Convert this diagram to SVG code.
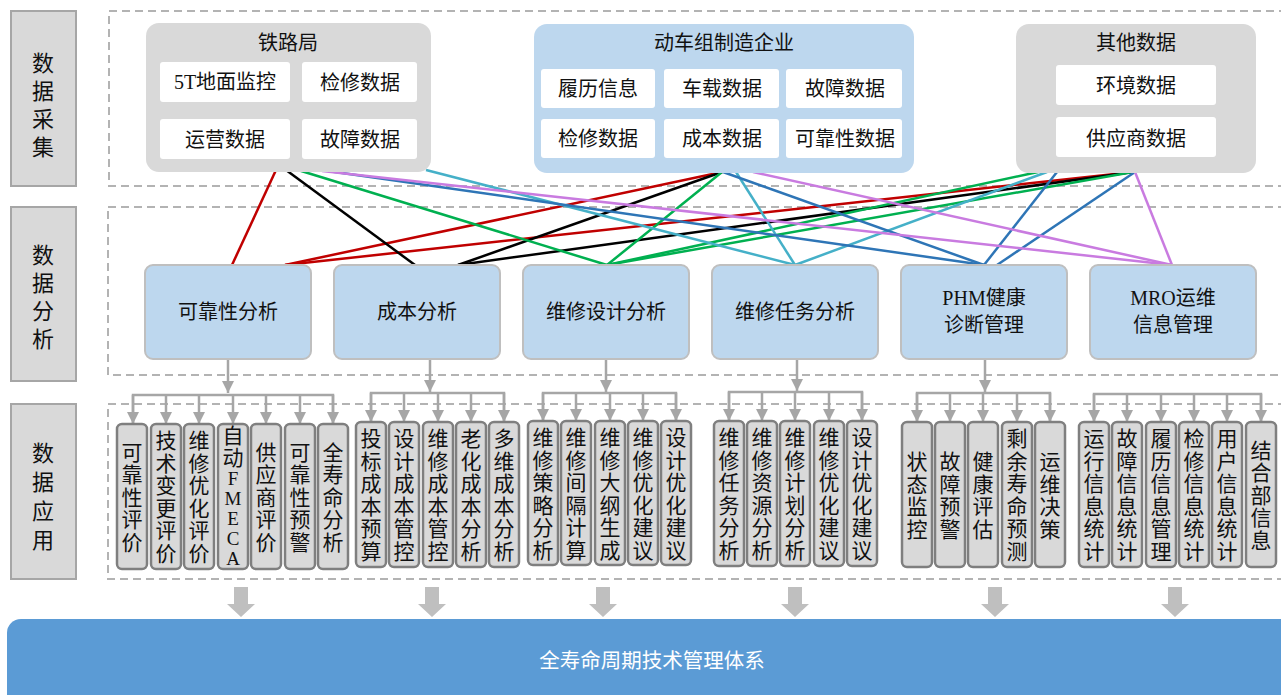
<svg xmlns="http://www.w3.org/2000/svg" width="1281" height="695" viewBox="0 0 1281 695">
<style>
text{font-family:"Liberation Serif","Noto Sans CJK SC",serif;fill:#111;text-anchor:middle}
.t20{font-size:20px}
.t22{font-size:22px}
.ch{font-size:21px}
.lat{font-size:19px}
.lab{fill:#d9d9d9;stroke:#a6a6a6;stroke-width:2}
.region{fill:none;stroke:#b3b3b3;stroke-width:2;stroke-dasharray:8 5}
.srcg{fill:#d9d9d9}
.srcb{fill:#bdd7ee}
.inner{fill:#fff}
.ana{fill:#bdd7ee;stroke:#bfbfbf;stroke-width:2}
.app{fill:#d9d9d9;stroke:#7f7f7f;stroke-width:2.5}
.ln{fill:none;stroke-width:2.5}
.r{stroke:#c00000}.k{stroke:#000}.g{stroke:#00b050}.c{stroke:#45b0c8}.b{stroke:#2e75b6}.p{stroke:#c97be0}
.gc{fill:none;stroke:#a6a6a6;stroke-width:2.5}
.blk{fill:#bfbfbf}
</style>
<defs>
<marker id="ah" markerUnits="userSpaceOnUse" markerWidth="14" markerHeight="12" refX="12" refY="6" orient="auto">
<path d="M0,0 L12,6 L0,12 Z" fill="#a6a6a6"/>
</marker>
<path id="blockArrow" d="M-7,0 H7 V17 H14 L0,30 L-14,17 H-7 Z"/>
</defs>

<!-- layer labels -->
<g id="label-collect">
<rect class="lab" x="11" y="11" width="65" height="175"/>
<text class="t22" x="43"><tspan x="43" y="71">数</tspan><tspan x="43" y="99">据</tspan><tspan x="43" y="127">采</tspan><tspan x="43" y="155">集</tspan></text>
</g>
<g id="label-analysis">
<rect class="lab" x="11" y="207" width="65" height="174"/>
<text class="t22" x="43"><tspan x="43" y="263">数</tspan><tspan x="43" y="291">据</tspan><tspan x="43" y="319">分</tspan><tspan x="43" y="347">析</tspan></text>
</g>
<g id="label-apply">
<rect class="lab" x="11" y="404" width="65" height="175"/>
<text class="t22" x="43"><tspan x="43" y="461">数</tspan><tspan x="43" y="490">据</tspan><tspan x="43" y="519">应</tspan><tspan x="43" y="548">用</tspan></text>
</g>

<!-- dashed regions -->
<g id="regions">
<rect class="region" x="109" y="11" width="1190" height="175"/>
<rect class="region" x="108" y="207" width="1190" height="168"/>
<rect class="region" x="108" y="404" width="1190" height="175"/>
</g>

<!-- connectors -->
<g id="connectors">
<line class="ln r" x1="276" y1="170" x2="232" y2="265"/>
<line class="ln r" x1="722" y1="172" x2="285" y2="265"/>
<line class="ln r" x1="1133" y1="172" x2="285" y2="265"/>
<line class="ln k" x1="286" y1="170" x2="415" y2="265"/>
<line class="ln k" x1="722" y1="172" x2="458" y2="265"/>
<line class="ln k" x1="1133" y1="172" x2="458" y2="265"/>
<line class="ln g" x1="298" y1="170" x2="607" y2="265"/>
<line class="ln g" x1="722" y1="172" x2="607" y2="265"/>
<line class="ln g" x1="1038" y1="172" x2="607" y2="265"/>
<line class="ln g" x1="1133" y1="172" x2="607" y2="265"/>
<line class="ln c" x1="426" y1="170" x2="795" y2="265"/>
<line class="ln c" x1="736" y1="172" x2="795" y2="265"/>
<line class="ln c" x1="1047" y1="172" x2="795" y2="265"/>
<line class="ln b" x1="328" y1="171" x2="984" y2="265"/>
<line class="ln b" x1="723" y1="172" x2="984" y2="265"/>
<line class="ln b" x1="1057" y1="172" x2="984" y2="265"/>
<line class="ln b" x1="1135" y1="172" x2="997" y2="265"/>
<line class="ln p" x1="322" y1="171" x2="1172" y2="265"/>
<line class="ln p" x1="753" y1="172" x2="1172" y2="265"/>
<line class="ln p" x1="1135" y1="172" x2="1172" y2="265"/>

<!-- analysis to application -->
<line class="gc" x1="228" y1="359" x2="228" y2="393" marker-end="url(#ah)"/>
<path class="gc" d="M133,424 V395 H333 V424"/>
<line class="gc" x1="133" y1="395" x2="133" y2="424" marker-end="url(#ah)"/>
<line class="gc" x1="166" y1="395" x2="166" y2="424" marker-end="url(#ah)"/>
<line class="gc" x1="199" y1="395" x2="199" y2="424" marker-end="url(#ah)"/>
<line class="gc" x1="233" y1="395" x2="233" y2="424" marker-end="url(#ah)"/>
<line class="gc" x1="266" y1="395" x2="266" y2="424" marker-end="url(#ah)"/>
<line class="gc" x1="300" y1="395" x2="300" y2="424" marker-end="url(#ah)"/>
<line class="gc" x1="333" y1="395" x2="333" y2="424" marker-end="url(#ah)"/>

<line class="gc" x1="430" y1="359" x2="430" y2="392" marker-end="url(#ah)"/>
<path class="gc" d="M371,422 V393 H504 V422"/>
<line class="gc" x1="371" y1="393" x2="371" y2="422" marker-end="url(#ah)"/>
<line class="gc" x1="404" y1="393" x2="404" y2="422" marker-end="url(#ah)"/>
<line class="gc" x1="438" y1="393" x2="438" y2="422" marker-end="url(#ah)"/>
<line class="gc" x1="471" y1="393" x2="471" y2="422" marker-end="url(#ah)"/>
<line class="gc" x1="504" y1="393" x2="504" y2="422" marker-end="url(#ah)"/>

<line class="gc" x1="606" y1="359" x2="606" y2="392" marker-end="url(#ah)"/>
<path class="gc" d="M543,421 V393 H676 V421"/>
<line class="gc" x1="543" y1="393" x2="543" y2="421" marker-end="url(#ah)"/>
<line class="gc" x1="576" y1="393" x2="576" y2="421" marker-end="url(#ah)"/>
<line class="gc" x1="610" y1="393" x2="610" y2="421" marker-end="url(#ah)"/>
<line class="gc" x1="643" y1="393" x2="643" y2="421" marker-end="url(#ah)"/>
<line class="gc" x1="676" y1="393" x2="676" y2="421" marker-end="url(#ah)"/>

<line class="gc" x1="797" y1="359" x2="797" y2="391" marker-end="url(#ah)"/>
<path class="gc" d="M729,421 V392 H862 V421"/>
<line class="gc" x1="729" y1="392" x2="729" y2="421" marker-end="url(#ah)"/>
<line class="gc" x1="762" y1="392" x2="762" y2="421" marker-end="url(#ah)"/>
<line class="gc" x1="795" y1="392" x2="795" y2="421" marker-end="url(#ah)"/>
<line class="gc" x1="829" y1="392" x2="829" y2="421" marker-end="url(#ah)"/>
<line class="gc" x1="862" y1="392" x2="862" y2="421" marker-end="url(#ah)"/>

<line class="gc" x1="985" y1="359" x2="985" y2="392" marker-end="url(#ah)"/>
<path class="gc" d="M917,422 V393 H1050 V422"/>
<line class="gc" x1="917" y1="393" x2="917" y2="422" marker-end="url(#ah)"/>
<line class="gc" x1="950" y1="393" x2="950" y2="422" marker-end="url(#ah)"/>
<line class="gc" x1="983" y1="393" x2="983" y2="422" marker-end="url(#ah)"/>
<line class="gc" x1="1017" y1="393" x2="1017" y2="422" marker-end="url(#ah)"/>
<line class="gc" x1="1050" y1="393" x2="1050" y2="422" marker-end="url(#ah)"/>

<path class="gc" d="M1094,422 V394 H1261 V422"/>
<line class="gc" x1="1094" y1="394" x2="1094" y2="422" marker-end="url(#ah)"/>
<line class="gc" x1="1127" y1="394" x2="1127" y2="422" marker-end="url(#ah)"/>
<line class="gc" x1="1161" y1="394" x2="1161" y2="422" marker-end="url(#ah)"/>
<line class="gc" x1="1194" y1="394" x2="1194" y2="422" marker-end="url(#ah)"/>
<line class="gc" x1="1227" y1="394" x2="1227" y2="422" marker-end="url(#ah)"/>
<line class="gc" x1="1261" y1="394" x2="1261" y2="422" marker-end="url(#ah)"/>

<!-- block arrows to bottom bar -->
<use href="#blockArrow" class="blk" x="241" y="587"/>
<use href="#blockArrow" class="blk" x="432" y="587"/>
<use href="#blockArrow" class="blk" x="603" y="587"/>
<use href="#blockArrow" class="blk" x="795" y="587"/>
<use href="#blockArrow" class="blk" x="995" y="587"/>
<use href="#blockArrow" class="blk" x="1175" y="587"/>
</g>

<!-- sources -->
<g id="src-railway">
<rect class="srcg" x="146" y="23" width="285" height="149" rx="13"/>
<text class="t20" x="288" y="50">铁路局</text>
<rect class="inner" x="160" y="62" width="130" height="40" rx="3"/>
<text class="t20" x="225" y="89">5T地面监控</text>
<rect class="inner" x="302" y="62" width="115" height="40" rx="3"/>
<text class="t20" x="360" y="90">检修数据</text>
<rect class="inner" x="160" y="119" width="130" height="40" rx="3"/>
<text class="t20" x="225" y="147">运营数据</text>
<rect class="inner" x="302" y="119" width="115" height="40" rx="3"/>
<text class="t20" x="360" y="147">故障数据</text>
</g>
<g id="src-emu">
<rect class="srcb" x="534" y="24" width="380" height="149" rx="13"/>
<text class="t20" x="724" y="50">动车组制造企业</text>
<rect class="inner" x="541" y="69" width="114" height="39" rx="3"/>
<text class="t20" x="598" y="96">履历信息</text>
<rect class="inner" x="664" y="69" width="115" height="39" rx="3"/>
<text class="t20" x="722" y="96">车载数据</text>
<rect class="inner" x="786" y="69" width="116" height="39" rx="3"/>
<text class="t20" x="845" y="96">故障数据</text>
<rect class="inner" x="541" y="119" width="114" height="39" rx="3"/>
<text class="t20" x="598" y="146">检修数据</text>
<rect class="inner" x="664" y="119" width="115" height="39" rx="3"/>
<text class="t20" x="722" y="146">成本数据</text>
<rect class="inner" x="786" y="119" width="116" height="39" rx="3"/>
<text class="t20" x="845" y="146">可靠性数据</text>
</g>
<g id="src-other">
<rect class="srcg" x="1016" y="24" width="240" height="149" rx="13"/>
<text class="t20" x="1136" y="50">其他数据</text>
<rect class="inner" x="1056" y="65" width="160" height="40" rx="3"/>
<text class="t20" x="1136" y="93">环境数据</text>
<rect class="inner" x="1056" y="117" width="160" height="40" rx="3"/>
<text class="t20" x="1136" y="146">供应商数据</text>
</g>

<!-- analysis -->
<g id="ana-reliability"><rect class="ana" x="145" y="265" width="166" height="94" rx="8"/><text class="t20" x="228" y="319">可靠性分析</text></g>
<g id="ana-cost"><rect class="ana" x="334" y="265" width="166" height="94" rx="8"/><text class="t20" x="417" y="319">成本分析</text></g>
<g id="ana-design"><rect class="ana" x="523" y="265" width="166" height="94" rx="8"/><text class="t20" x="606" y="319">维修设计分析</text></g>
<g id="ana-task"><rect class="ana" x="712" y="265" width="166" height="94" rx="8"/><text class="t20" x="795" y="319">维修任务分析</text></g>
<g id="ana-phm"><rect class="ana" x="901" y="265" width="166" height="94" rx="8"/><text class="t20" x="984"><tspan x="984" y="305">PHM健康</tspan><tspan x="984" y="332">诊断管理</tspan></text></g>
<g id="ana-mro"><rect class="ana" x="1090" y="265" width="166" height="94" rx="8"/><text class="t20" x="1173"><tspan x="1173" y="305">MRO运维</tspan><tspan x="1173" y="332">信息管理</tspan></text></g>

<!-- applications group 1 -->
<g id="app-1-1"><rect class="app" x="117" y="424" width="30" height="145" rx="5"/><text class="ch"><tspan x="132" y="459.5">可</tspan><tspan x="132" dy="22.5">靠</tspan><tspan x="132" dy="22.5">性</tspan><tspan x="132" dy="22.5">评</tspan><tspan x="132" dy="22.5">价</tspan></text></g>
<g id="app-1-2"><rect class="app" x="151" y="424" width="30" height="145" rx="5"/><text class="ch"><tspan x="166" y="448">技</tspan><tspan x="166" dy="22.5">术</tspan><tspan x="166" dy="22.5">变</tspan><tspan x="166" dy="22.5">更</tspan><tspan x="166" dy="22.5">评</tspan><tspan x="166" dy="22.5">价</tspan></text></g>
<g id="app-1-3"><rect class="app" x="184" y="424" width="30" height="145" rx="5"/><text class="ch"><tspan x="199" y="448">维</tspan><tspan x="199" dy="22.5">修</tspan><tspan x="199" dy="22.5">优</tspan><tspan x="199" dy="22.5">化</tspan><tspan x="199" dy="22.5">评</tspan><tspan x="199" dy="22.5">价</tspan></text></g>
<g id="app-1-4"><rect class="app" x="218" y="424" width="30" height="145" rx="5"/><text class="ch"><tspan x="233" y="443">自</tspan><tspan x="233" y="464.5">动</tspan></text><text class="lat"><tspan x="233" y="485">F</tspan><tspan x="233" y="505">M</tspan><tspan x="233" y="525">E</tspan><tspan x="233" y="545">C</tspan><tspan x="233" y="565">A</tspan></text></g>
<g id="app-1-5"><rect class="app" x="251" y="424" width="30" height="145" rx="5"/><text class="ch"><tspan x="266" y="459.5">供</tspan><tspan x="266" dy="22.5">应</tspan><tspan x="266" dy="22.5">商</tspan><tspan x="266" dy="22.5">评</tspan><tspan x="266" dy="22.5">价</tspan></text></g>
<g id="app-1-6"><rect class="app" x="285" y="424" width="30" height="145" rx="5"/><text class="ch"><tspan x="300" y="459.5">可</tspan><tspan x="300" dy="22.5">靠</tspan><tspan x="300" dy="22.5">性</tspan><tspan x="300" dy="22.5">预</tspan><tspan x="300" dy="22.5">警</tspan></text></g>
<g id="app-1-7"><rect class="app" x="318" y="424" width="30" height="145" rx="5"/><text class="ch"><tspan x="333" y="459.5">全</tspan><tspan x="333" dy="22.5">寿</tspan><tspan x="333" dy="22.5">命</tspan><tspan x="333" dy="22.5">分</tspan><tspan x="333" dy="22.5">析</tspan></text></g>

<!-- group 2 -->
<g id="app-2-1"><rect class="app" x="356" y="422" width="30" height="145" rx="5"/><text class="ch"><tspan x="371" y="446">投</tspan><tspan x="371" dy="22.5">标</tspan><tspan x="371" dy="22.5">成</tspan><tspan x="371" dy="22.5">本</tspan><tspan x="371" dy="22.5">预</tspan><tspan x="371" dy="22.5">算</tspan></text></g>
<g id="app-2-2"><rect class="app" x="389" y="422" width="30" height="145" rx="5"/><text class="ch"><tspan x="404" y="446">设</tspan><tspan x="404" dy="22.5">计</tspan><tspan x="404" dy="22.5">成</tspan><tspan x="404" dy="22.5">本</tspan><tspan x="404" dy="22.5">管</tspan><tspan x="404" dy="22.5">控</tspan></text></g>
<g id="app-2-3"><rect class="app" x="423" y="422" width="30" height="145" rx="5"/><text class="ch"><tspan x="438" y="446">维</tspan><tspan x="438" dy="22.5">修</tspan><tspan x="438" dy="22.5">成</tspan><tspan x="438" dy="22.5">本</tspan><tspan x="438" dy="22.5">管</tspan><tspan x="438" dy="22.5">控</tspan></text></g>
<g id="app-2-4"><rect class="app" x="456" y="422" width="30" height="145" rx="5"/><text class="ch"><tspan x="471" y="446">老</tspan><tspan x="471" dy="22.5">化</tspan><tspan x="471" dy="22.5">成</tspan><tspan x="471" dy="22.5">本</tspan><tspan x="471" dy="22.5">分</tspan><tspan x="471" dy="22.5">析</tspan></text></g>
<g id="app-2-5"><rect class="app" x="489" y="422" width="30" height="145" rx="5"/><text class="ch"><tspan x="504" y="446">多</tspan><tspan x="504" dy="22.5">维</tspan><tspan x="504" dy="22.5">成</tspan><tspan x="504" dy="22.5">本</tspan><tspan x="504" dy="22.5">分</tspan><tspan x="504" dy="22.5">析</tspan></text></g>

<!-- group 3 -->
<g id="app-3-1"><rect class="app" x="528" y="421" width="30" height="144" rx="5"/><text class="ch"><tspan x="543" y="445">维</tspan><tspan x="543" dy="22.5">修</tspan><tspan x="543" dy="22.5">策</tspan><tspan x="543" dy="22.5">略</tspan><tspan x="543" dy="22.5">分</tspan><tspan x="543" dy="22.5">析</tspan></text></g>
<g id="app-3-2"><rect class="app" x="561" y="421" width="30" height="144" rx="5"/><text class="ch"><tspan x="576" y="445">维</tspan><tspan x="576" dy="22.5">修</tspan><tspan x="576" dy="22.5">间</tspan><tspan x="576" dy="22.5">隔</tspan><tspan x="576" dy="22.5">计</tspan><tspan x="576" dy="22.5">算</tspan></text></g>
<g id="app-3-3"><rect class="app" x="595" y="421" width="30" height="144" rx="5"/><text class="ch"><tspan x="610" y="445">维</tspan><tspan x="610" dy="22.5">修</tspan><tspan x="610" dy="22.5">大</tspan><tspan x="610" dy="22.5">纲</tspan><tspan x="610" dy="22.5">生</tspan><tspan x="610" dy="22.5">成</tspan></text></g>
<g id="app-3-4"><rect class="app" x="628" y="421" width="30" height="144" rx="5"/><text class="ch"><tspan x="643" y="445">维</tspan><tspan x="643" dy="22.5">修</tspan><tspan x="643" dy="22.5">优</tspan><tspan x="643" dy="22.5">化</tspan><tspan x="643" dy="22.5">建</tspan><tspan x="643" dy="22.5">议</tspan></text></g>
<g id="app-3-5"><rect class="app" x="661" y="421" width="30" height="144" rx="5"/><text class="ch"><tspan x="676" y="445">设</tspan><tspan x="676" dy="22.5">计</tspan><tspan x="676" dy="22.5">优</tspan><tspan x="676" dy="22.5">化</tspan><tspan x="676" dy="22.5">建</tspan><tspan x="676" dy="22.5">议</tspan></text></g>

<!-- group 4 -->
<g id="app-4-1"><rect class="app" x="714" y="421" width="30" height="145" rx="5"/><text class="ch"><tspan x="729" y="445">维</tspan><tspan x="729" dy="22.5">修</tspan><tspan x="729" dy="22.5">任</tspan><tspan x="729" dy="22.5">务</tspan><tspan x="729" dy="22.5">分</tspan><tspan x="729" dy="22.5">析</tspan></text></g>
<g id="app-4-2"><rect class="app" x="747" y="421" width="30" height="145" rx="5"/><text class="ch"><tspan x="762" y="445">维</tspan><tspan x="762" dy="22.5">修</tspan><tspan x="762" dy="22.5">资</tspan><tspan x="762" dy="22.5">源</tspan><tspan x="762" dy="22.5">分</tspan><tspan x="762" dy="22.5">析</tspan></text></g>
<g id="app-4-3"><rect class="app" x="780" y="421" width="30" height="145" rx="5"/><text class="ch"><tspan x="795" y="445">维</tspan><tspan x="795" dy="22.5">修</tspan><tspan x="795" dy="22.5">计</tspan><tspan x="795" dy="22.5">划</tspan><tspan x="795" dy="22.5">分</tspan><tspan x="795" dy="22.5">析</tspan></text></g>
<g id="app-4-4"><rect class="app" x="814" y="421" width="30" height="145" rx="5"/><text class="ch"><tspan x="829" y="445">维</tspan><tspan x="829" dy="22.5">修</tspan><tspan x="829" dy="22.5">优</tspan><tspan x="829" dy="22.5">化</tspan><tspan x="829" dy="22.5">建</tspan><tspan x="829" dy="22.5">议</tspan></text></g>
<g id="app-4-5"><rect class="app" x="847" y="421" width="30" height="145" rx="5"/><text class="ch"><tspan x="862" y="445">设</tspan><tspan x="862" dy="22.5">计</tspan><tspan x="862" dy="22.5">优</tspan><tspan x="862" dy="22.5">化</tspan><tspan x="862" dy="22.5">建</tspan><tspan x="862" dy="22.5">议</tspan></text></g>

<!-- group 5 -->
<g id="app-5-1"><rect class="app" x="902" y="422" width="30" height="145" rx="5"/><text class="ch"><tspan x="917" y="469">状</tspan><tspan x="917" dy="22.5">态</tspan><tspan x="917" dy="22.5">监</tspan><tspan x="917" dy="22.5">控</tspan></text></g>
<g id="app-5-2"><rect class="app" x="935" y="422" width="30" height="145" rx="5"/><text class="ch"><tspan x="950" y="469">故</tspan><tspan x="950" dy="22.5">障</tspan><tspan x="950" dy="22.5">预</tspan><tspan x="950" dy="22.5">警</tspan></text></g>
<g id="app-5-3"><rect class="app" x="968" y="422" width="30" height="145" rx="5"/><text class="ch"><tspan x="983" y="469">健</tspan><tspan x="983" dy="22.5">康</tspan><tspan x="983" dy="22.5">评</tspan><tspan x="983" dy="22.5">估</tspan></text></g>
<g id="app-5-4"><rect class="app" x="1002" y="422" width="30" height="145" rx="5"/><text class="ch"><tspan x="1017" y="446">剩</tspan><tspan x="1017" dy="22.5">余</tspan><tspan x="1017" dy="22.5">寿</tspan><tspan x="1017" dy="22.5">命</tspan><tspan x="1017" dy="22.5">预</tspan><tspan x="1017" dy="22.5">测</tspan></text></g>
<g id="app-5-5"><rect class="app" x="1035" y="422" width="30" height="145" rx="5"/><text class="ch"><tspan x="1050" y="469">运</tspan><tspan x="1050" dy="22.5">维</tspan><tspan x="1050" dy="22.5">决</tspan><tspan x="1050" dy="22.5">策</tspan></text></g>

<!-- group 6 -->
<g id="app-6-1"><rect class="app" x="1079" y="422" width="30" height="145" rx="5"/><text class="ch"><tspan x="1094" y="446">运</tspan><tspan x="1094" dy="22.5">行</tspan><tspan x="1094" dy="22.5">信</tspan><tspan x="1094" dy="22.5">息</tspan><tspan x="1094" dy="22.5">统</tspan><tspan x="1094" dy="22.5">计</tspan></text></g>
<g id="app-6-2"><rect class="app" x="1112" y="422" width="30" height="145" rx="5"/><text class="ch"><tspan x="1127" y="446">故</tspan><tspan x="1127" dy="22.5">障</tspan><tspan x="1127" dy="22.5">信</tspan><tspan x="1127" dy="22.5">息</tspan><tspan x="1127" dy="22.5">统</tspan><tspan x="1127" dy="22.5">计</tspan></text></g>
<g id="app-6-3"><rect class="app" x="1146" y="422" width="30" height="145" rx="5"/><text class="ch"><tspan x="1161" y="446">履</tspan><tspan x="1161" dy="22.5">历</tspan><tspan x="1161" dy="22.5">信</tspan><tspan x="1161" dy="22.5">息</tspan><tspan x="1161" dy="22.5">管</tspan><tspan x="1161" dy="22.5">理</tspan></text></g>
<g id="app-6-4"><rect class="app" x="1179" y="422" width="30" height="145" rx="5"/><text class="ch"><tspan x="1194" y="446">检</tspan><tspan x="1194" dy="22.5">修</tspan><tspan x="1194" dy="22.5">信</tspan><tspan x="1194" dy="22.5">息</tspan><tspan x="1194" dy="22.5">统</tspan><tspan x="1194" dy="22.5">计</tspan></text></g>
<g id="app-6-5"><rect class="app" x="1212" y="422" width="30" height="145" rx="5"/><text class="ch"><tspan x="1227" y="446">用</tspan><tspan x="1227" dy="22.5">户</tspan><tspan x="1227" dy="22.5">信</tspan><tspan x="1227" dy="22.5">息</tspan><tspan x="1227" dy="22.5">统</tspan><tspan x="1227" dy="22.5">计</tspan></text></g>
<g id="app-6-6"><rect class="app" x="1246" y="422" width="30" height="145" rx="5"/><text class="ch"><tspan x="1261" y="457.5">结</tspan><tspan x="1261" dy="22.5">合</tspan><tspan x="1261" dy="22.5">部</tspan><tspan x="1261" dy="22.5">信</tspan><tspan x="1261" dy="22.5">息</tspan></text></g>

<!-- bottom system bar -->
<g id="system">
<rect x="7" y="619" width="1300" height="110" rx="14" fill="#5b9bd5"/>
<text x="652" y="668" style="font-family:'Noto Sans CJK SC','Liberation Sans',sans-serif;font-size:20.5px;fill:#fff">全寿命周期技术管理体系</text>
</g>
</svg>
